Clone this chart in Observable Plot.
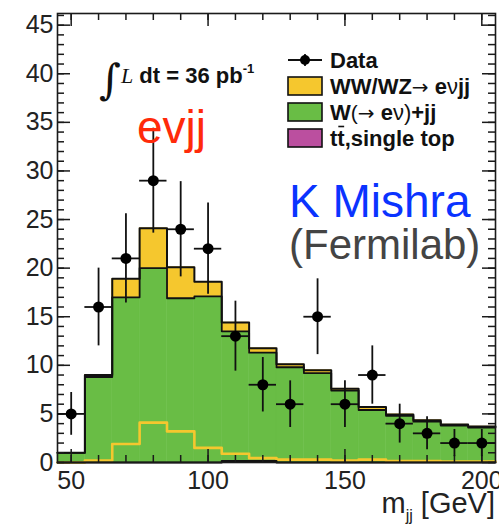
<!DOCTYPE html>
<html><head><meta charset="utf-8">
<script src="https://cdn.jsdelivr.net/npm/d3@7"></script>
<script src="https://cdn.jsdelivr.net/npm/@observablehq/plot@0.6"></script>
<style>
html,body{margin:0;padding:0;background:#fff;}
#chart{width:499px;height:524px;overflow:hidden;}
</style></head><body><div id="chart"></div>
<script>
// ---- data ----
const binCenters = [50,60,70,80,90,100,110,120,130,140,150,160,170,180,190,200];
const binHalfWidth = 5;
const dataCounts = [5,16,21,29,24,22,13,8,6,15,6,9,4,3,2,2];
const dataErrors = [2.2,4.0,4.6,5.4,4.9,4.7,3.6,2.8,2.4,3.9,2.4,3.0,2.0,1.7,1.4,1.4];
const ttbarSingleTop = [0,0,0,0,0,0,0.15,0.15,0,0,0,0,0,0,0,0];
const wJets = [1.0,8.8,17.0,20.0,16.9,17.1,13.35,11.15,9.8,9.2,7.4,5.4,4.8,4.2,3.8,3.6];
const wwWz = [0,0.2,1.9,4.1,3.2,1.5,0.9,0.45,0.3,0.3,0.2,0.3,0.15,0.15,0.1,0.1];
const xDomain = [45,205];
const yDomain = [0,46.2];
const xMajorTicks = [50,100,150,200];
const xMinorTicks = [50,60,70,80,90,100,110,120,130,140,150,160,170,180,190,200];
const yMajorTicks = [0,5,10,15,20,25,30,35,40,45];
const yMinorTicks = [0,1,2,3,4,5,6,7,8,9,10,11,12,13,14,15,16,17,18,19,20,21,22,23,24,25,26,27,28,29,30,31,32,33,34,35,36,37,38,39,40,41,42,43,44,45,46];
const legendLabels = ["Data","WW/WZ→ eνjj","W(→ eν)+jj","tt,single top"];
const colors = {ww:"#f5c72e", w:"#69bd45", tt:"#bb4f9f"};

// ---- derived tables ----
const rows = binCenters.map((c,i)=>{
  const t0 = 0, t1 = ttbarSingleTop[i];
  const w1 = t1 + wJets[i];
  const v1 = w1 + wwWz[i];
  return {x1:c-binHalfWidth, x2:c+binHalfWidth, t0, t1, w1, v1, ww:wwWz[i]};
});
function steps(key){
  const pts=[];
  rows.forEach(r=>{pts.push({x:r.x1,y:r[key]});pts.push({x:r.x2,y:r[key]});});
  return pts;
}
const points = binCenters.map((c,i)=>({x:c,y:dataCounts[i],lo:dataCounts[i]-dataErrors[i],hi:dataCounts[i]+dataErrors[i],x1:c-binHalfWidth,x2:c+binHalfWidth}));

const W = 499, H = 524, mL = 57, mR = 4, mT = 13, mB = 62;
const fw = W-mL-mR, fh = H-mT-mB;
const minorLen = 7, majorLen = 13;
const axisCol = "#1a1a1a";

const plot = Plot.plot({
  width: W, height: H,
  marginLeft: mL, marginRight: mR, marginTop: mT, marginBottom: mB,
  x: {domain: xDomain},
  y: {domain: yDomain},
  style: {fontFamily: "'Liberation Sans', Arial, sans-serif", fontSize: "25px", background: "white", color: "#222", overflow: "visible"},
  marks: [
    Plot.rect(rows, {x1:"x1", x2:"x2", y1:"t0", y2:"t1", fill: colors.tt, stroke: colors.tt, strokeWidth: 0.5}),
    Plot.rect(rows, {x1:"x1", x2:"x2", y1:"t1", y2:"w1", fill: colors.w, stroke: colors.w, strokeWidth: 0.5}),
    Plot.rect(rows, {x1:"x1", x2:"x2", y1:"w1", y2:"v1", fill: colors.ww, stroke: colors.ww, strokeWidth: 0.5}),
    Plot.line(steps("ww"), {x:"x", y:"y", stroke: colors.ww, strokeWidth: 2.6}),
    Plot.line(steps("t1"), {x:"x", y:"y", stroke: "#111", strokeWidth: 2}),
    Plot.line(steps("w1"), {x:"x", y:"y", stroke: "#111", strokeWidth: 1.8}),
    Plot.line(steps("v1"), {x:"x", y:"y", stroke: "#111", strokeWidth: 2}),
    // ticks (inside frame, ROOT style)
    Plot.ruleX(xMinorTicks, {x: d=>d, insetTop: fh-minorLen, stroke: axisCol, strokeWidth: 1.5}),
    Plot.ruleX(xMinorTicks, {x: d=>d, insetBottom: fh-minorLen, stroke: axisCol, strokeWidth: 1.5}),
    Plot.ruleX(xMajorTicks, {x: d=>d, insetTop: fh-majorLen, stroke: axisCol, strokeWidth: 1.5}),
    Plot.ruleX(xMajorTicks, {x: d=>d, insetBottom: fh-majorLen, stroke: axisCol, strokeWidth: 1.5}),
    Plot.ruleY(yMinorTicks, {y: d=>d, insetRight: fw-minorLen, stroke: axisCol, strokeWidth: 1.5}),
    Plot.ruleY(yMinorTicks, {y: d=>d, insetLeft: fw-minorLen, stroke: axisCol, strokeWidth: 1.5}),
    Plot.ruleY(yMajorTicks, {y: d=>d, insetRight: fw-majorLen, stroke: axisCol, strokeWidth: 1.5}),
    Plot.ruleY(yMajorTicks, {y: d=>d, insetLeft: fw-majorLen, stroke: axisCol, strokeWidth: 1.5}),
    Plot.frame({stroke: axisCol, strokeWidth: 1.6}),
    // data with errors
    Plot.ruleX(points, {x:"x", y1:"lo", y2:"hi", stroke:"#111", strokeWidth: 1.8}),
    Plot.ruleY(points, {y:"y", x1:"x1", x2:"x2", stroke:"#111", strokeWidth: 1.8}),
    Plot.dot(points, {x:"x", y:"y", r: 5.5, fill:"#000", stroke: "none"}),
    Plot.axisX(xMajorTicks, {tickSize: 0, tickPadding: 9, fontSize: 25, label: null, tickFormat: d=>String(d)}),
    Plot.axisY(yMajorTicks, {tickSize: 0, tickPadding: 4, fontSize: 25, label: null, tickFormat: d=>String(d)})
  ]
});
document.getElementById("chart").appendChild(plot);

// ---- annotations and legend ----
const svg = d3.select(plot);
const sans = "'Liberation Sans', Arial, sans-serif";
const ann = svg.append("g").attr("text-anchor", "start");

// luminosity label
const lumi = ann.append("g").attr("font-family", sans).attr("fill", "#111");
lumi.append("text").attr("x", 99).attr("y", 94).attr("font-family", "'DejaVu Serif', serif").attr("font-size", 42).text("∫");
const lt = lumi.append("text").attr("x", 121).attr("y", 83).attr("font-size", 22).attr("font-weight", "bold");
lt.append("tspan").attr("font-family", "'Liberation Serif', serif").attr("font-style", "italic").attr("font-weight", "normal").text("L");
lt.append("tspan").text(" dt = 36 pb");
lt.append("tspan").attr("font-size", 13).attr("dy", -10).text("-1");

// legend
const lg = ann.append("g").attr("font-family", sans).attr("font-size", 22).attr("font-weight", "bold").attr("fill", "#111");
const lx = 288, boxW = 34, boxH = 18, textX = 330;
const rowY = [60, 86, 112, 138];
const arrowFont = "'DejaVu Sans', sans-serif";
lg.append("line").attr("x1", lx).attr("x2", lx+boxW).attr("y1", rowY[0]).attr("y2", rowY[0]).attr("stroke", "#111").attr("stroke-width", 1.8);
lg.append("line").attr("x1", lx+boxW/2).attr("x2", lx+boxW/2).attr("y1", rowY[0]-6).attr("y2", rowY[0]+6).attr("stroke", "#111").attr("stroke-width", 1.8);
lg.append("circle").attr("cx", lx+boxW/2).attr("cy", rowY[0]).attr("r", 5).attr("fill", "#000");
[colors.ww, colors.w, colors.tt].forEach((c,i)=>{
  lg.append("rect").attr("x", lx).attr("y", rowY[i+1]-boxH/2).attr("width", boxW).attr("height", boxH)
    .attr("fill", c).attr("stroke", "#111").attr("stroke-width", 1.6);
});
lg.append("text").attr("x", textX).attr("y", rowY[0]+7.5).text(legendLabels[0]);
const t1 = lg.append("text").attr("x", textX).attr("y", rowY[1]+7.5);
t1.append("tspan").text("WW/WZ");
t1.append("tspan").attr("font-weight","normal").attr("font-family", arrowFont).attr("font-size", 20).text("→");
t1.append("tspan").text(" e");
t1.append("tspan").attr("font-weight","normal").text("ν");
t1.append("tspan").text("jj");
const t2 = lg.append("text").attr("x", textX).attr("y", rowY[2]+7.5);
t2.append("tspan").text("W");
t2.append("tspan").attr("font-weight","normal").attr("font-size", 21).text("(");
t2.append("tspan").attr("font-weight","normal").attr("font-family", arrowFont).attr("font-size", 20).text("→");
t2.append("tspan").text(" e");
t2.append("tspan").attr("font-weight","normal").text("ν)");
t2.append("tspan").text("+jj");
const t3 = lg.append("text").attr("x", textX).attr("y", rowY[3]+7.5).text(legendLabels[3]);
// bar over the second t (t-bar)
{
  const node = t3.node();
  const sx = node.getStartPositionOfChar(1).x;
  const w = node.getSubStringLength(1,1);
  lg.append("line").attr("x1", sx+1).attr("x2", sx+w-0.5).attr("y1", rowY[3]+7.5-19).attr("y2", rowY[3]+7.5-19)
    .attr("stroke", "#111").attr("stroke-width", 1.6);
}

// big annotations
ann.append("text").attr("x", 137).attr("y", 143).attr("font-family", sans).attr("font-size", 46).attr("fill", "#ff2a0a").text("evjj");
ann.append("text").attr("x", 289).attr("y", 217).attr("font-family", sans).attr("font-size", 46).attr("fill", "#0a33ff").text("K Mishra");
ann.append("text").attr("x", 289).attr("y", 259).attr("font-family", sans).attr("font-size", 42).attr("fill", "#444").text("(Fermilab)");

// x axis title
const xt = ann.append("text").attr("x", 495).attr("y", 513).attr("text-anchor", "end").attr("font-family", sans).attr("font-size", 29).attr("fill", "#222");
xt.append("tspan").text("m");
xt.append("tspan").attr("font-size", 16).attr("dy", 8).text("jj");
xt.append("tspan").attr("dy", -8).text(" [GeV]");
</script></body></html>
